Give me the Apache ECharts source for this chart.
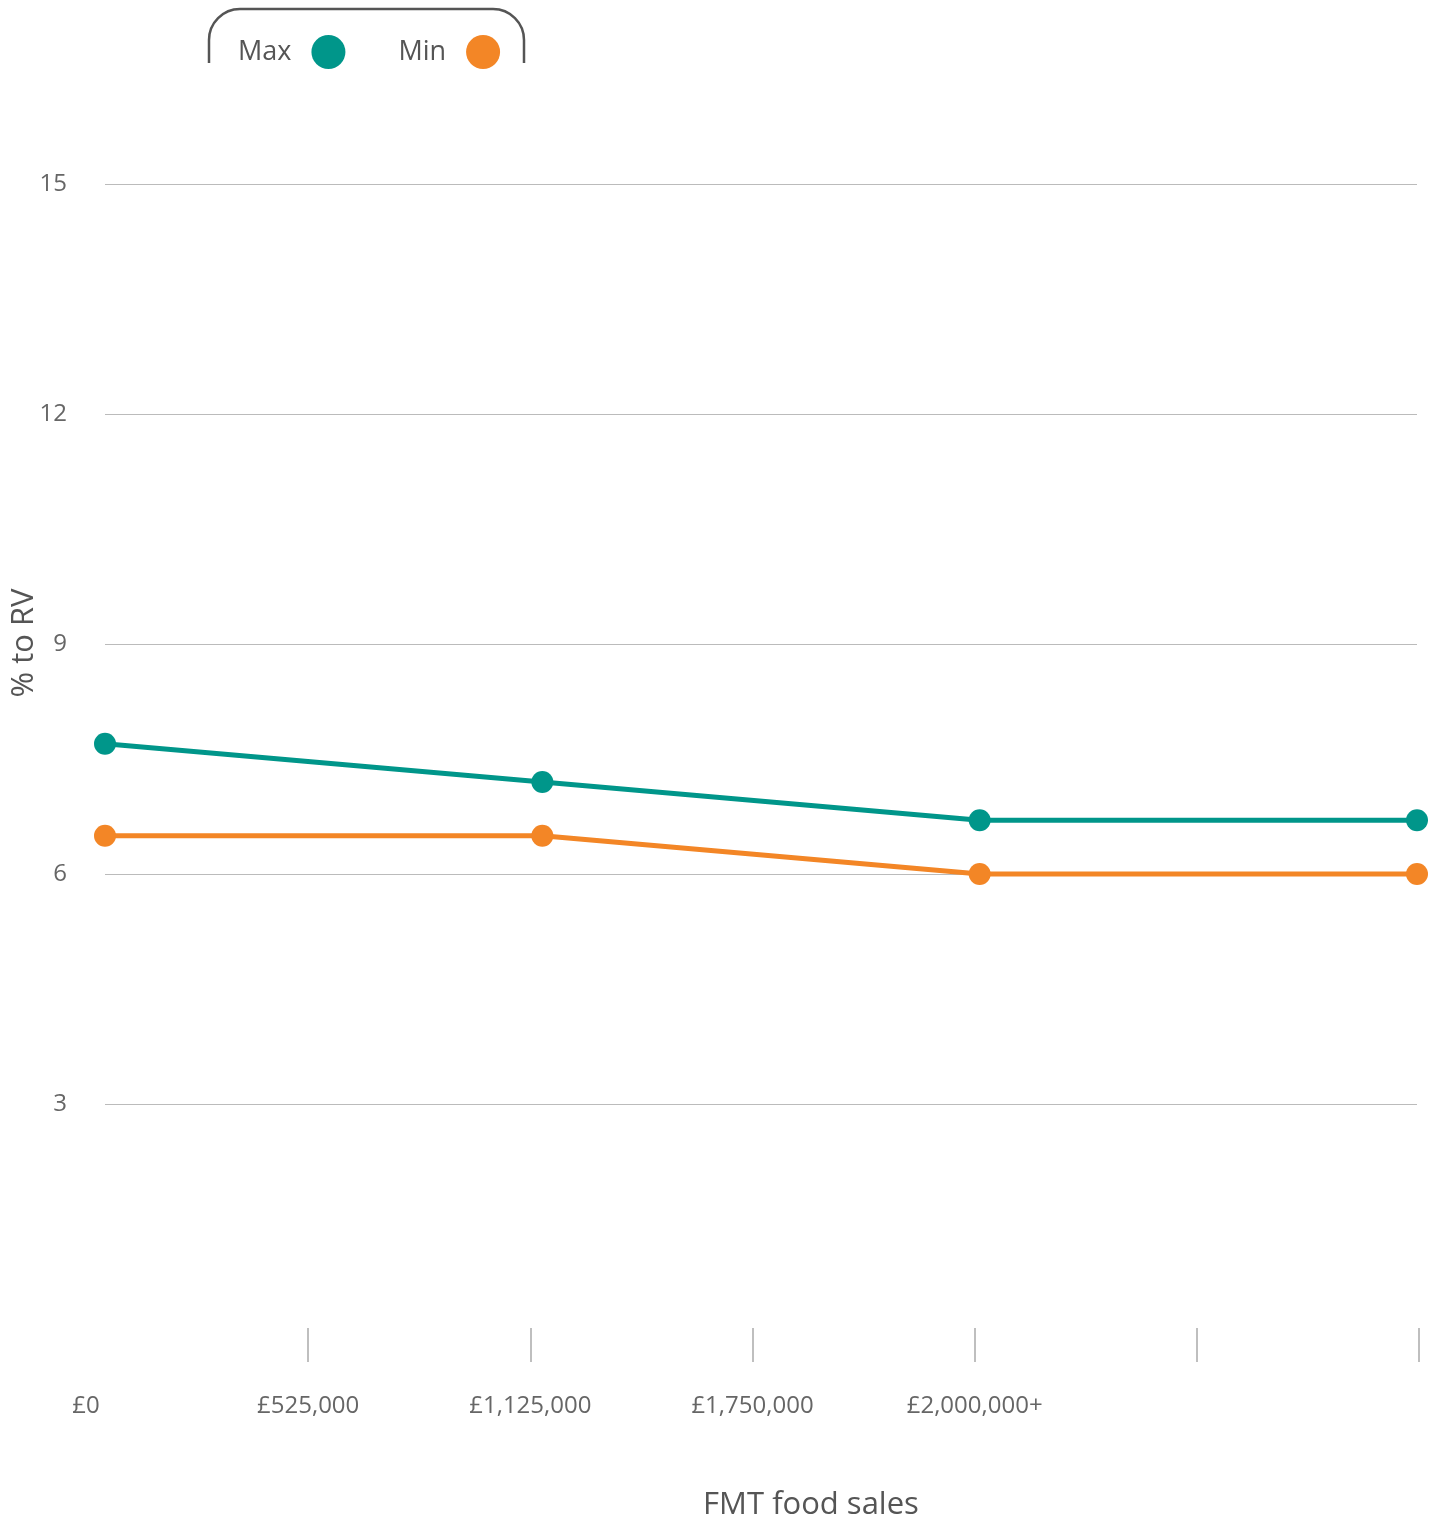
<!DOCTYPE html>
<html>
<head>
<meta charset="utf-8">
<script src="https://cdn.jsdelivr.net/npm/echarts@6/dist/echarts.min.js"></script>
<style>
html,body{margin:0;padding:0;background:#fff;}
#chart{width:1434px;height:1524px;}
</style>
</head>
<body>
<div id="chart"></div>
<script>
const categories = ['£0', '£1,125,000', '£2,000,000+', '£2,000,000+ (max)'];
const maxValues = [7.7, 7.2, 6.7, 6.7];
const minValues = [6.5, 6.5, 6.0, 6.0];
const xTickLabels = ['£0', '£525,000', '£1,125,000', '£1,750,000', '£2,000,000+', '', ''];
const yTicks = [0, 3, 6, 9, 12, 15];
const seriesNames = ['Max', 'Min'];
const colors = ['#00968A', '#F38626'];
const FONT = '"Open Sans", "Noto Sans", sans-serif';

const tabStyle = { stroke: '#555', lineWidth: 2.5, fill: 'none' };

const chart = echarts.init(document.getElementById('chart'));
chart.setOption({
  animation: false,
  backgroundColor: '#fff',
  textStyle: { fontFamily: FONT },
  legend: {
    data: seriesNames,
    left: 233,
    top: 30,
    align: 'right',
    icon: 'circle',
    itemWidth: 34,
    itemHeight: 34,
    itemGap: 53,
    textStyle: { fontSize: 27, color: '#555', fontFamily: FONT, padding: [0, 15, 0, 0] }
  },
  grid: [
    { left: 105, right: 17, top: 184, bottom: 190 },
    { left: 86, right: 15, top: 1300, height: 28 }
  ],
  xAxis: [
    {
      gridIndex: 0,
      type: 'category',
      data: categories,
      boundaryGap: false,
      axisLine: { show: false },
      axisTick: { show: false },
      axisLabel: { show: false },
      splitLine: { show: false }
    },
    {
      gridIndex: 1,
      type: 'category',
      data: xTickLabels,
      boundaryGap: false,
      axisLine: { show: false },
      axisTick: {
        show: true,
        length: 34,
        interval: function (i) { return i > 0; },
        lineStyle: { color: '#aaa', width: 1.5 }
      },
      axisLabel: { interval: 0, margin: 66, fontSize: 24, color: '#666', fontFamily: FONT },
      splitLine: { show: false }
    }
  ],
  yAxis: [
    {
      gridIndex: 0,
      type: 'value',
      min: yTicks[0],
      max: yTicks[yTicks.length - 1],
      interval: 3,
      axisLine: { show: false },
      axisTick: { show: false },
      axisLabel: { showMinLabel: false, margin: 38, fontSize: 24, color: '#666', fontFamily: FONT },
      splitLine: { show: true, showMinLine: false, lineStyle: { color: '#bbb', width: 1.2 } }
    },
    { gridIndex: 1, type: 'value', show: false }
  ],
  series: [
    {
      name: seriesNames[0], type: 'line', data: maxValues,
      xAxisIndex: 0, yAxisIndex: 0,
      symbol: 'circle', symbolSize: 22,
      lineStyle: { color: colors[0], width: 5 },
      itemStyle: { color: colors[0] },
      z: 3
    },
    {
      name: seriesNames[1], type: 'line', data: minValues,
      xAxisIndex: 0, yAxisIndex: 0,
      symbol: 'circle', symbolSize: 22,
      lineStyle: { color: colors[1], width: 5 },
      itemStyle: { color: colors[1] },
      z: 2
    }
  ],
  graphic: [
    { type: 'line', shape: { x1: 209, y1: 40, x2: 209, y2: 63 }, style: tabStyle },
    { type: 'line', shape: { x1: 524, y1: 40, x2: 524, y2: 63 }, style: tabStyle },
    { type: 'line', shape: { x1: 240, y1: 9, x2: 493, y2: 9 }, style: tabStyle },
    { type: 'arc', shape: { cx: 240, cy: 40, r: 31, startAngle: Math.PI, endAngle: Math.PI * 1.5, clockwise: true }, style: tabStyle },
    { type: 'arc', shape: { cx: 493, cy: 40, r: 31, startAngle: Math.PI * 1.5, endAngle: Math.PI * 2, clockwise: true }, style: tabStyle },
    {
      type: 'text',
      x: 24, y: 643,
      rotation: Math.PI / 2,
      style: { text: '% to RV', fontSize: 31, fill: '#555', fontFamily: FONT, align: 'center', verticalAlign: 'middle' }
    },
    {
      type: 'text',
      x: 811, y: 1505,
      style: { text: 'FMT food sales', fontSize: 31, fill: '#555', fontFamily: FONT, align: 'center', verticalAlign: 'middle' }
    }
  ]
});
</script>
</body>
</html>
